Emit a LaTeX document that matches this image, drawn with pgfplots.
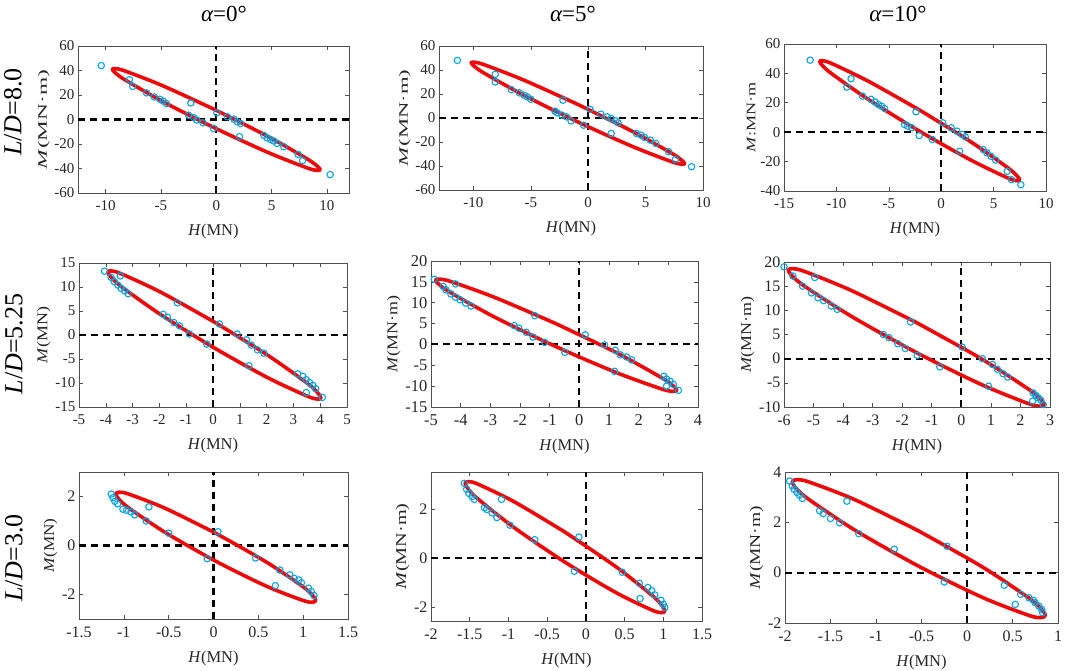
\documentclass[border=0pt]{standalone}
\usepackage{pgfplots}
\pgfplotsset{compat=1.18}
\usepackage{graphicx}
\usepackage{fontspec}
\setmainfont{Liberation Serif}
\newcommand\fs[1]{\fontsize{#1}{#1}\selectfont}
\definecolor{mkblue}{RGB}{0,165,230}
\definecolor{loopred}{RGB}{236,10,10}
\definecolor{axgray}{RGB}{80,80,80}
\pgfplotsset{
  panel/.style={
    scale only axis, anchor=south west,
    enlargelimits=false, scaled ticks=false,
    axis line style={draw=axgray, line width=0.8pt},
    tick style={draw=axgray, line width=0.6pt},
    major tick length=4pt, tick align=inside,
    /pgf/number format/assume math mode=true,
    ticklabel style={font=\fs{15}, text=black!85},
    xticklabel shift=4pt,
    xlabel style={font=\fs{16.5}, text=black!85, yshift=-7pt},
    ylabel style={font=\fs{15}, text=black!85, yshift=-2pt},
    xlabel={\textit{H}(MN)},
    clip=true,
  },
  dsh/.style={black, line width=2.05pt, dash pattern=on 7pt off 5pt, no markers},
  pts/.style={only marks, mark=o, mark size=3.2pt, mkblue, mark options={line width=1.1pt}},
  lp/.style={loopred, line width=3.6pt, smooth, no markers, line join=round, line cap=round},
}
\begin{document}
\begin{tikzpicture}
\path[use as bounding box] (0,0) rectangle (1065pt,671pt);

% column titles
\node[font=\fs{23}] at (224pt,657pt) {{\itshape α}=0°};
\node[font=\fs{23}] at (573pt,657pt) {{\itshape α}=5°};
\node[font=\fs{23}] at (898pt,657pt) {{\itshape α}=10°};
% row labels
\node[font=\fs{26}, rotate=90] at (13pt,559pt) {\textit{L}/\textit{D}=8.0};
\node[font=\fs{26}, rotate=90] at (14pt,327pt) {\textit{L}/\textit{D}=5.25};
\node[font=\fs{26}, rotate=90] at (14pt,113pt) {\textit{L}/\textit{D}=3.0};

% ---------- (1,1)
\begin{axis}[panel, at={(78pt,478pt)}, width=271pt, height=147pt,
  xmin=-12.5, xmax=12, ymin=-60, ymax=60,
  xtick={-10,-5,0,5,10}, ytick={-60,-40,-20,0,20,40,60},
  ylabel={\fs{13}\scalebox{1.8}[1]{\textit{M}(MN·m)}}]
\addplot[dsh] coordinates {(0,-60) (0,60)};
\addplot[dsh] coordinates {(-12.5,0) (12,0)};
\addplot[pts] coordinates {(-10.4,44) (10.3,-45) (-7.85,32.5) (-7.55,27) (-6.3,21.7) (-5.6,18.4) (-5.1,16.5) (-4.8,15) (-4.5,13) (-2.3,13.5) (-2.5,3.5) (-2.05,1.6) (-1.75,-0.5) (-1.2,-2.7) (-0.25,-7.3) (0.05,5.4) (1,2.2) (1.6,0.3) (1.9,-1.9) (2.2,-3.3) (2.1,-14) (4.3,-13) (4.6,-15) (4.9,-16.3) (5.2,-17.6) (5.5,-19.5) (6.1,-22.2) (7.4,-28.5) (7.8,-33.6)};
\addplot[lp] coordinates {(0,7.5) (-4.7,27.0) (-8.14,39.26) (-9.08,41.55) (-9.4,41) (-9.08,37.67) (-8.14,31.76) (-4.7,14.0) (0,-7.5) (4.7,-27.0) (8.14,-39.26) (9.08,-41.55) (9.4,-41) (9.08,-37.67) (8.14,-31.76) (4.7,-14.0) (0,7.5)};
\end{axis}

% ---------- (1,2)
\begin{axis}[panel, at={(439pt,481pt)}, width=264pt, height=144pt,
  xmin=-13, xmax=10, ymin=-60, ymax=60,
  xtick={-10,-5,0,5,10}, ytick={-60,-40,-20,0,20,40,60},
  ylabel={\fs{13}\scalebox{1.75}[1]{\textit{M}(MN·m)}}]
\addplot[dsh] coordinates {(0,-60) (0,60)};
\addplot[dsh] coordinates {(-13,0) (10,0)};
\addplot[pts] coordinates {(-11.4,48) (-8.1,36.4) (-8.1,30) (-6.7,23.7) (-6,21) (-5.6,19) (-5.3,17.6) (-5,15.6) (-2.2,14.8) (-2.9,5.7) (-2.7,4.3) (-2.3,2.4) (-1.9,1) (-1.5,-2.4) (-0.4,-6) (0.15,7.3) (1.1,3.2) (1.65,1) (2,-0.4) (2.4,-2.4) (2.6,-4) (2,-12.9) (4.2,-12.9) (4.6,-14.3) (4.9,-16.2) (5.4,-18.4) (5.9,-21.2) (7,-28) (7.6,-34.5) (9,-40.6)};
\addplot[lp] coordinates {(-0.9,11.3) (-5.55,31.32) (-8.95,44.02) (-9.88,46.46) (-10.2,46) (-9.88,42.68) (-8.95,36.72) (-5.55,18.68) (-0.9,-3.3) (3.75,-23.32) (7.15,-36.02) (8.08,-38.46) (8.4,-38) (8.08,-34.68) (7.15,-28.72) (3.75,-10.68) (-0.9,11.3)};
\end{axis}

% ---------- (1,3)
\begin{axis}[panel, at={(784pt,480pt)}, width=262pt, height=147pt,
  xmin=-15, xmax=10, ymin=-40, ymax=60,
  xtick={-15,-10,-5,0,5,10}, ytick={-40,-20,0,20,40,60},
  ylabel={\fs{13}\scalebox{1.4}[1]{\textit{M}:MN·m}}]
\addplot[dsh] coordinates {(0,-40) (0,60)};
\addplot[dsh] coordinates {(-15,0) (10,0)};
\addplot[pts] coordinates {(-12.5,49) (-8.6,36.4) (-9,30.7) (-7.5,24.5) (-6.7,22.3) (-6.3,20.5) (-6,18.9) (-5.7,17.7) (-5.4,16.1) (-2.4,13.9) (-3.5,5.2) (-3.2,4.1) (-2.8,3) (-2.1,-2.3) (-0.85,-5) (0.15,6.4) (0.95,3) (1.5,0.7) (2,-1.6) (2.3,-3.2) (1.75,-13) (4,-11.8) (4.35,-14) (4.75,-16.4) (5.2,-19) (6.3,-26.6) (6.7,-32.3) (7.6,-35.7)};
\addplot[lp] coordinates {(-2.05,15.0) (-6.83,34.19) (-10.32,46.3) (-11.28,48.59) (-11.6,48.1) (-11.28,44.87) (-10.32,39.1) (-6.83,21.71) (-2.05,0.6) (2.73,-18.59) (6.22,-30.7) (7.18,-32.99) (7.5,-32.5) (7.18,-29.27) (6.22,-23.5) (2.73,-6.11) (-2.05,15.0)};
\end{axis}

% ---------- (2,1)
\begin{axis}[panel, at={(79pt,264pt)}, width=268pt, height=144pt,
  xmin=-5, xmax=5, ymin=-15, ymax=15,
  xtick={-5,-4,...,5}, ytick={-15,-10,-5,0,5,10,15},
  ylabel={\fs{15}\scalebox{1.2}[1]{\textit{M}(MN)}}]
\addplot[dsh] coordinates {(0,-15) (0,15)};
\addplot[dsh] coordinates {(-5,0) (5,0)};
\addplot[pts] coordinates {(-4.05,13.3) (-3.46,12.3) (-3.8,12) (-3.68,11.1) (-3.55,10.4) (-3.43,9.7) (-3.3,9.2) (-3.17,8.6) (-1.33,6.7) (-1.86,4.3) (-1.7,3.7) (-1.46,2.6) (-1.25,1.9) (-0.88,0.2) (-0.23,-1.9) (0.24,2.3) (0.9,0.2) (1.25,-1) (1.43,-2.1) (1.66,-3.1) (1.9,-3.8) (1.34,-6.4) (3.16,-8.1) (3.35,-8.6) (3.48,-9.3) (3.6,-9.9) (3.73,-10.5) (3.83,-11.2) (3.48,-12) (4.08,-13)};
\addplot[lp] coordinates {(0.05,2.7) (-1.94,8.89) (-3.4,12.69) (-3.79,13.35) (-3.93,13.1) (-3.79,11.95) (-3.4,9.99) (-1.94,4.21) (0.05,-2.7) (2.04,-8.89) (3.5,-12.69) (3.89,-13.35) (4.03,-13.1) (3.89,-11.95) (3.5,-9.99) (2.04,-4.21) (0.05,2.7)};
\end{axis}

% ---------- (2,2)
\begin{axis}[panel, at={(431pt,264pt)}, width=267pt, height=146pt,
  xmin=-5, xmax=4, ymin=-15, ymax=20,
  ticklabel style={font=\fs{16.5}},
  xtick={-5,-4,...,4}, ytick={-15,-10,-5,0,5,10,15,20},
  ylabel={\fs{15}\scalebox{1.2}[1]{\textit{M}(MN·m)}}]
\addplot[dsh] coordinates {(0,-15) (0,20)};
\addplot[dsh] coordinates {(-5,0) (4,0)};
\addplot[pts] coordinates {(-4.89,15.6) (-4.17,14.5) (-4.59,13.9) (-4.5,13.1) (-4.33,12.1) (-4.17,11.3) (-4.02,10.7) (-3.83,9.9) (-3.65,9.2) (-1.5,6.9) (-2.2,4.5) (-2.04,3.9) (-1.79,2.9) (-1.56,1.75) (-1.17,0.5) (-0.49,-1.9) (0.2,2.3) (0.85,-0.1) (1.21,-1.4) (1.38,-2.5) (1.59,-3) (1.76,-3.7) (1.19,-6.45) (2.85,-7.65) (2.94,-8.3) (3.06,-8.85) (3.17,-9.6) (2.94,-10) (3.34,-11)};
\addplot[lp] coordinates {(-0.78,4.95) (-2.82,11.18) (-4.3,15.0) (-4.71,15.66) (-4.85,15.4) (-4.71,14.24) (-4.3,12.26) (-2.82,6.42) (-0.78,-0.55) (1.26,-6.78) (2.74,-10.6) (3.15,-11.26) (3.29,-11.0) (3.15,-9.84) (2.74,-7.86) (1.26,-2.02) (-0.78,4.95)};
\end{axis}

% ---------- (2,3)
\begin{axis}[panel, at={(784pt,264pt)}, width=266pt, height=145pt,
  xmin=-6, xmax=3, ymin=-10, ymax=20,
  ticklabel style={font=\fs{16}},
  xtick={-6,-5,...,3}, ytick={-10,-5,0,5,10,15,20},
  ylabel={\fs{15}\scalebox{1.2}[1]{\textit{M}(MN·m)}}]
\addplot[dsh] coordinates {(0,-10) (0,20)};
\addplot[dsh] coordinates {(-6,0) (3,0)};
\addplot[pts] coordinates {(-6,19) (-5.7,17.1) (-4.96,16.8) (-5.37,15) (-5.07,13.6) (-4.85,12.6) (-4.66,12) (-4.4,10.9) (-4.2,10.2) (-1.72,7.6) (-2.64,5) (-2.45,4.35) (-2.15,3.1) (-1.9,2.1) (-1.49,0.7) (-0.73,-1.7) (0.03,2.4) (0.71,0) (1.05,-1.2) (1.22,-2.2) (1.41,-3.1) (1.57,-3.8) (0.92,-5.7) (2.43,-7.1) (2.52,-7.6) (2.6,-8.1) (2.69,-8.6) (2.41,-8.8) (2.77,-9.5)};
\addplot[lp] coordinates {(-1.53,7.5) (-3.695,14.03) (-5.28,17.99) (-5.71,18.63) (-5.86,18.3) (-5.71,17.03) (-5.28,14.89) (-3.695,8.67) (-1.53,1.3) (0.635,-5.23) (2.22,-9.19) (2.65,-9.83) (2.8,-9.5) (2.65,-8.23) (2.22,-6.09) (0.635,0.13) (-1.53,7.5)};
\end{axis}

% ---------- (3,1)
\begin{axis}[panel, at={(79pt,52pt)}, width=269pt, height=147pt,
  xmin=-1.5, xmax=1.5, ymin=-3, ymax=3,
  ticklabel style={font=\fs{16}},
  xtick={-1.5,-1,-0.5,0,0.5,1,1.5}, ytick={-2,0,2},
  ylabel={\fs{15}\scalebox{1.15}[1]{\textit{M}(MN)}}]
\addplot[dsh] coordinates {(0,-3) (0,3)};
\addplot[dsh] coordinates {(-1.5,0) (1.5,0)};
\addplot[pts] coordinates {(-1.14,2.1) (-1.12,1.95) (-1.1,1.8) (-1.07,1.7) (-0.72,1.58) (-1.01,1.48) (-0.97,1.44) (-0.92,1.37) (-0.88,1.25) (-0.75,1) (-0.5,0.5) (-0.07,-0.54) (0.05,0.56) (0.47,-0.51) (0.74,-1) (0.85,-1.2) (0.9,-1.34) (0.95,-1.41) (0.98,-1.52) (0.69,-1.64) (1.06,-1.74) (1.09,-1.88) (1.12,-2.04)};
\addplot[lp] coordinates {(0.025,0.5) (-0.533,1.509) (-0.941,2.094) (-1.052,2.174) (-1.09,2.1) (-1.052,1.878) (-0.941,1.524) (-0.533,0.521) (0.025,-0.64) (0.583,-1.649) (0.991,-2.234) (1.102,-2.314) (1.14,-2.24) (1.102,-2.018) (0.991,-1.664) (0.583,-0.661) (0.025,0.5)};
\end{axis}

% ---------- (3,2)
\begin{axis}[panel, at={(431pt,50pt)}, width=271pt, height=149pt,
  xmin=-2, xmax=1.5, ymin=-2.55, ymax=3.5,
  ticklabel style={font=\fs{16}},
  xtick={-2,-1.5,-1,-0.5,0,0.5,1,1.5}, ytick={-2,0,2},
  ylabel={\fs{15}\scalebox{1.35}[1]{\textit{M}(MN·m)}}]
\addplot[dsh] coordinates {(0,-2.55) (0,3.5)};
\addplot[dsh] coordinates {(-2,0) (1.5,0)};
\addplot[pts] coordinates {(-1.57,3.04) (-1.54,2.8) (-1.51,2.63) (-1.47,2.5) (-1.44,2.39) (-1.09,2.39) (-1.31,2.05) (-1.28,1.98) (-1.21,1.84) (-1.15,1.65) (-0.98,1.34) (-0.66,0.75) (-0.09,0.86) (-0.15,-0.53) (0.47,-0.57) (0.69,-1.02) (0.8,-1.19) (0.85,-1.32) (0.89,-1.49) (0.7,-1.64) (0.97,-1.71) (1.0,-1.87) (1.02,-2.0)};
\addplot[lp] coordinates {(-0.27,1.06) (-0.915,2.273) (-1.387,2.998) (-1.516,3.11) (-1.56,3.04) (-1.516,2.794) (-1.387,2.388) (-0.915,1.217) (-0.27,-0.16) (0.375,-1.373) (0.847,-2.098) (0.976,-2.21) (1.02,-2.14) (0.976,-1.894) (0.847,-1.488) (0.375,-0.317) (-0.27,1.06)};
\end{axis}

% ---------- (3,3)
\begin{axis}[panel, at={(785pt,48pt)}, width=273pt, height=151pt,
  xmin=-2, xmax=1, ymin=-2, ymax=4,
  ticklabel style={font=\fs{16}},
  xtick={-2,-1.5,-1,-0.5,0,0.5,1}, ytick={-2,0,2,4},
  ylabel={\fs{15}\scalebox{1.3}[1]{\textit{M}(MN·m)}}]
\addplot[dsh] coordinates {(0,-2) (0,4)};
\addplot[dsh] coordinates {(-2,0) (1,0)};
\addplot[pts] coordinates {(-1.95,3.64) (-1.92,3.45) (-1.9,3.31) (-1.87,3.19) (-1.84,3.08) (-1.81,2.95) (-1.32,2.84) (-1.62,2.46) (-1.58,2.35) (-1.5,2.15) (-1.4,1.98) (-1.19,1.55) (-0.8,0.93) (-0.22,1.05) (-0.25,-0.37) (0.41,-0.5) (0.59,-0.86) (0.68,-1.0) (0.73,-1.1) (0.75,-1.2) (0.79,-1.33) (0.53,-1.26) (0.82,-1.46) (0.83,-1.59)};
\addplot[lp] coordinates {(-0.53,1.655) (-1.225,2.886) (-1.734,3.6) (-1.873,3.696) (-1.92,3.605) (-1.873,3.334) (-1.734,2.9) (-1.225,1.674) (-0.53,0.255) (0.165,-0.976) (0.674,-1.69) (0.813,-1.786) (0.86,-1.695) (0.813,-1.424) (0.674,-0.99) (0.165,0.236) (-0.53,1.655)};
\end{axis}
\end{tikzpicture}
\end{document}
